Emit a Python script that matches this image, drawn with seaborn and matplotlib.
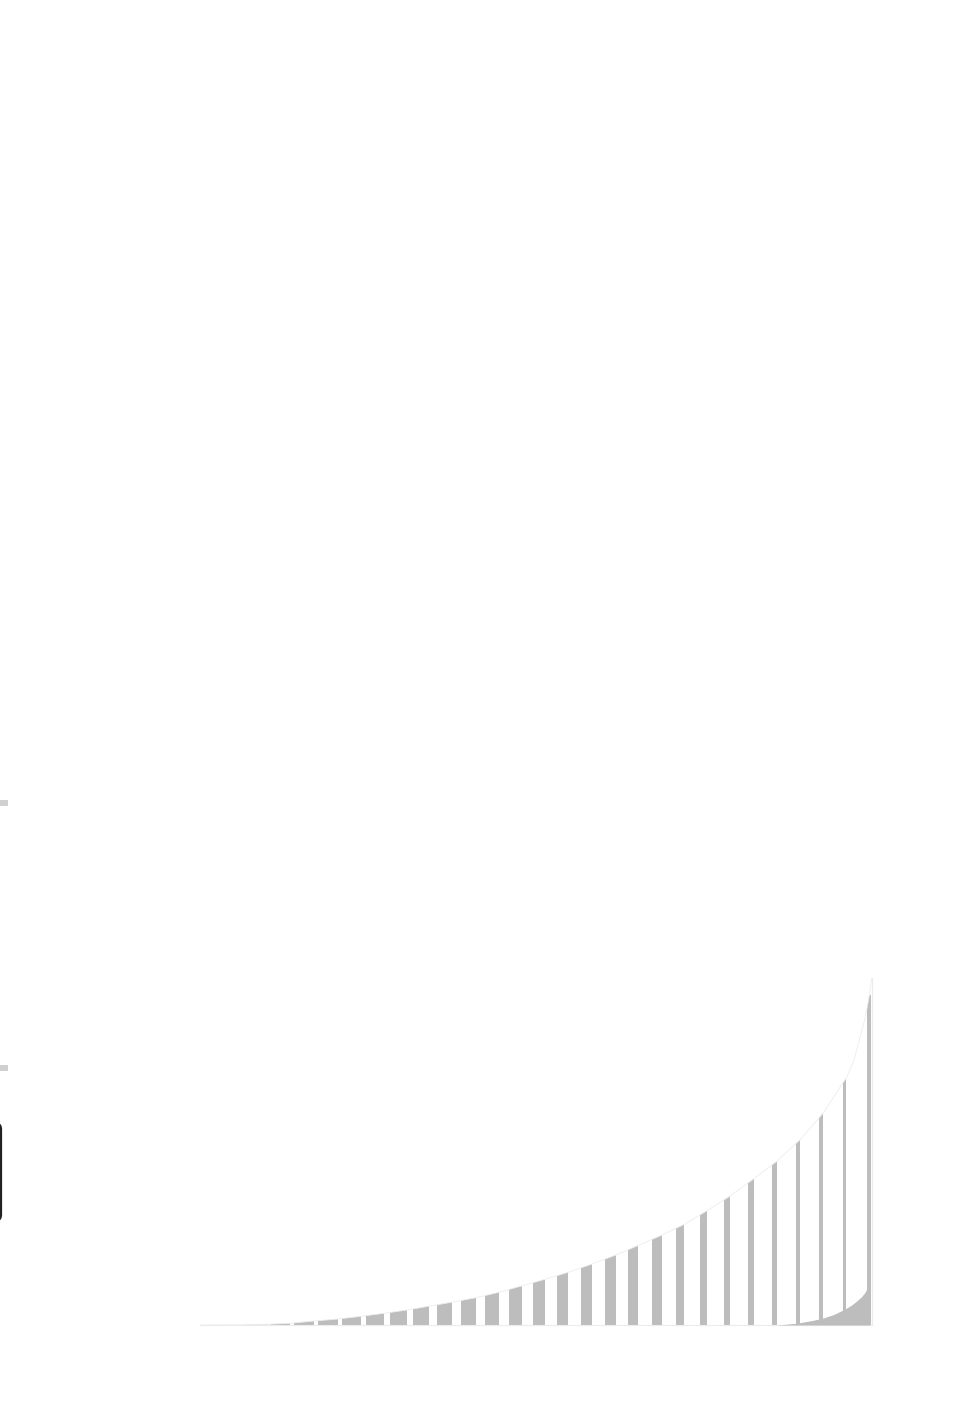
import numpy as np
import pandas as pd
import matplotlib
matplotlib.use("Agg")
import matplotlib.pyplot as plt
from matplotlib.patches import Polygon, FancyBboxPatch, Rectangle
import seaborn as sns

# ---------------- data ----------------
# bar index (categories)
bar_index = list(range(29))
# bar values (height at the right edge of each bar)
bar_values = [0.2, 0.3, 0.7, 1.7, 4.0, 6.0, 8.7, 11.7, 15.0, 19.0,
              23.0, 27.5, 33.0, 39.5, 46.0, 53.0, 61.0, 70.0, 80.0, 90.0,
              101.0, 115.0, 129.0, 146.0, 164.0, 186.0, 213.0, 248.0, 330.0]

# upper envelope curve (x in bar units, y values)
curve_x = [0.10, 1.86, 2.87, 3.83, 4.84, 5.84, 6.81, 7.77, 8.73, 9.69,
           10.66, 11.66, 12.63, 13.59, 14.55, 15.52, 16.48, 17.48, 18.45, 19.41,
           20.37, 21.34, 22.26, 23.22, 24.23, 25.22, 26.19, 26.70, 27.14, 27.45,
           27.70, 27.88, 27.98, 28.09, 28.19]
curve_y = [0.0, 0.3, 0.7, 1.7, 4.0, 6.0, 8.7, 11.7, 15.0, 19.0,
           23.0, 27.5, 33.0, 39.5, 46.0, 53.0, 61.0, 70.0, 80.0, 90.0,
           101.0, 115.0, 129.0, 145.7, 164.0, 186.0, 213.0, 232.0, 247.7, 265.0,
           288.0, 304.0, 315.0, 330.0, 347.0]

# lower-right filled curve
low_x = [24.21, 25.05, 25.26, 25.70, 26.16, 26.60, 27.07, 27.35, 27.56, 27.75,
         27.91, 28.00, 28.05, 28.10]
low_y = [0.0, 1.7, 2.7, 4.5, 7.0, 10.5, 16.0, 20.0, 24.0, 28.0,
         32.7, 37.0, 41.0, 43.0]

# ---------------- style ----------------
bar_widths_px = [22, 21.3, 21.3, 20, 20, 20, 19, 18, 17, 16,
                 15, 15, 14, 12.7, 12, 11, 11, 11, 10, 9.3,
                 8, 7.3, 6, 6, 5, 4.3, 3.3, 3, 3.3]
PX_PER_UNIT = 23.88
GRAY = "#bdbdbd"

sns.set_theme(style="white")
plt.rcParams["font.family"] = ["DejaVu Sans"]

W, H = 954, 1412
fig = plt.figure(figsize=(W / 100, H / 100), dpi=100)
fig.patch.set_facecolor("white")

ax = fig.add_axes([200 / W, (H - 1325) / H, 672 / W, (1325 - 978) / H])
ax.set_facecolor("white")

df = pd.DataFrame({"bar": bar_index, "value": bar_values})
sns.barplot(data=df, x="bar", y="value", color=GRAY, saturation=1,
            linewidth=0, ax=ax, zorder=1)

# clip path: region below the upper curve
clip_poly = Polygon([(curve_x[0], 0)] + list(zip(curve_x, curve_y)) + [(curve_x[-1], 0)],
                    closed=True, transform=ax.transData, facecolor="none",
                    edgecolor="none")
ax.add_patch(clip_poly)

for k, patch in enumerate(ax.patches[:len(bar_index)]):
    w = bar_widths_px[k] / PX_PER_UNIT
    patch.set_x(k)
    patch.set_width(w)
    patch.set_clip_path(clip_poly)

# faint envelope line
sns.lineplot(x=curve_x, y=curve_y, color="#ededed", linewidth=0.6, sort=False,
             ax=ax, zorder=4)

# lower-right gray fill
ax.fill_between(low_x, 0, low_y, color=GRAY, linewidth=0, zorder=3)

ax.set_xlim(0.063, 28.2)
ax.set_ylim(0, 347)
ax.set_xticks([])
ax.set_yticks([])
ax.set_xlabel("")
ax.set_ylabel("")
for s in ["left", "top"]:
    ax.spines[s].set_visible(False)
for s in ["right", "bottom"]:
    ax.spines[s].set_color("#ececec")
    ax.spines[s].set_linewidth(0.8)

# clipped decorations at the left edge of the figure
fig.add_artist(Rectangle((0, (H - 806) / H), 8 / W, 6 / H, transform=fig.transFigure,
                         facecolor="#d0d0d0", edgecolor="none"))
fig.add_artist(Rectangle((0, (H - 1071) / H), 8 / W, 6 / H, transform=fig.transFigure,
                         facecolor="#d0d0d0", edgecolor="none"))
fig.add_artist(FancyBboxPatch((-120 / W, (H - 1220) / H), 121 / W, 96 / H,
                              boxstyle="round,pad=0,rounding_size=0.004",
                              transform=fig.transFigure, facecolor="white",
                              edgecolor="#222222", linewidth=1.6))

fig.savefig("out.png", dpi=100, facecolor="white")
